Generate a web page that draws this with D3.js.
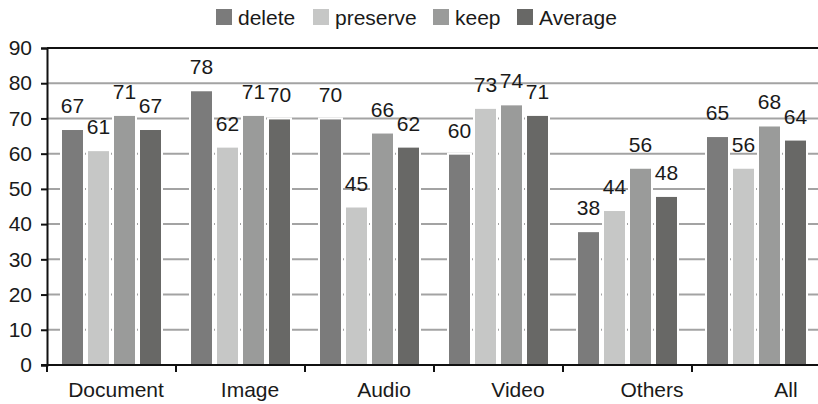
<!DOCTYPE html>
<html>
<head>
<meta charset="utf-8">
<script src="https://cdn.jsdelivr.net/npm/d3@7"></script>
<style>
  html, body { margin: 0; padding: 0; background: #fff; }
  svg { display: block; font-family: "Liberation Sans", Arial, Helvetica, sans-serif; }
</style>
</head>
<body>
<svg id="chart" width="818" height="404"></svg>
<script>
// Categories and series
const categories = ["Document", "Image", "Audio", "Video", "Others", "All"];
const seriesNames = ["delete", "preserve", "keep", "Average"];
const seriesColors = ["#7b7b7b", "#c6c7c6", "#9a9b9a", "#686866"];
const deleteValues   = [67, 78, 70, 60, 38, 65];
const preserveValues = [61, 62, 45, 73, 44, 56];
const keepValues     = [71, 71, 66, 74, 56, 68];
const averageValues  = [67, 70, 62, 71, 48, 64];
const yTicks = [0, 10, 20, 30, 40, 50, 60, 70, 80, 90];

const seriesValues = [deleteValues, preserveValues, keepValues, averageValues];
const FONT = 21;

const svg = d3.select("#chart");
const plot = { left: 47, right: 821, top: 48, bottom: 365 };

const x0 = d3.scaleBand().domain(categories).range([plot.left, plot.right]).padding(0);
const x1 = d3.scaleBand().domain(seriesNames).range([0, 104]).padding(0);
// category captions sit on their own, slightly wider spacing
const xLabel = d3.scalePoint().domain(categories).range([116, 786]);
const y = d3.scaleLinear().domain([0, 90]).range([plot.bottom, plot.top]);

const groupOffset = (x0.bandwidth() - 104) / 2;

// Horizontal grid lines
svg.append("g")
  .selectAll("line")
  .data(yTicks.filter(t => t > 0 && t < 90))
  .join("line")
  .attr("x1", plot.left).attr("x2", 818)
  .attr("y1", d => y(d)).attr("y2", d => y(d))
  .attr("stroke", "#a3a3a3").attr("stroke-width", 2);

// Bars
const groups = svg.append("g")
  .selectAll("g")
  .data(categories)
  .join("g")
  .attr("transform", c => `translate(${x0(c) + groupOffset},0)`);

groups.selectAll("rect")
  .data((c, i) => seriesNames.map((s, j) => ({ s, j, v: seriesValues[j][i] })))
  .join("rect")
  .attr("x", d => x1(d.s) + 1.5)
  .attr("width", x1.bandwidth() - 3)
  .attr("y", d => y(d.v))
  .attr("height", d => y(0) - y(d.v))
  .attr("fill", d => seriesColors[d.j])
  .attr("stroke", "#ffffff")
  .attr("stroke-width", 2);

// Value labels
groups.selectAll("text")
  .data((c, i) => seriesNames.map((s, j) => ({ s, j, v: seriesValues[j][i] })))
  .join("text")
  .attr("x", d => x1(d.s) + x1.bandwidth() / 2)
  .attr("y", d => y(d.v) - 16)
  .attr("text-anchor", "middle")
  .attr("font-size", FONT)
  .attr("fill", "#1a1a1a")
  .text(d => d.v);

// Top frame line
svg.append("line")
  .attr("x1", plot.left).attr("x2", 818)
  .attr("y1", plot.top).attr("y2", plot.top)
  .attr("stroke", "#111").attr("stroke-width", 2);

// Y axis
const yAxis = svg.append("g")
  .attr("transform", `translate(${plot.left},0)`)
  .call(d3.axisLeft(y).tickValues(yTicks).tickSize(6).tickPadding(9));
yAxis.select(".domain").attr("stroke", "#111").attr("stroke-width", 2);
yAxis.selectAll(".tick line").attr("stroke", "#111").attr("stroke-width", 2);
yAxis.selectAll(".tick text")
  .attr("font-size", FONT)
  .attr("font-family", "Liberation Sans, Arial, sans-serif")
  .attr("fill", "#1a1a1a");

// X axis
svg.append("line")
  .attr("x1", plot.left - 6).attr("x2", 818)
  .attr("y1", plot.bottom).attr("y2", plot.bottom)
  .attr("stroke", "#111").attr("stroke-width", 2);

svg.append("g")
  .selectAll("line")
  .data(categories)
  .join("line")
  .attr("x1", c => x0(c)).attr("x2", c => x0(c))
  .attr("y1", plot.bottom).attr("y2", plot.bottom + 7)
  .attr("stroke", "#111").attr("stroke-width", 2);

svg.append("g")
  .selectAll("text")
  .data(categories)
  .join("text")
  .attr("x", c => xLabel(c))
  .attr("y", plot.bottom + 32)
  .attr("text-anchor", "middle")
  .attr("font-size", FONT)
  .attr("fill", "#1a1a1a")
  .text(c => c);

// Legend
const legendX = [216, 313, 433, 517];
const legend = svg.append("g")
  .selectAll("g")
  .data(seriesNames)
  .join("g")
  .attr("transform", (s, i) => `translate(${legendX[i]},9)`);
legend.append("rect")
  .attr("width", 16).attr("height", 16)
  .attr("fill", (s, i) => seriesColors[i]);
legend.append("text")
  .attr("x", 22).attr("y", 16)
  .attr("font-size", FONT)
  .attr("fill", "#1a1a1a")
  .text(s => s);
</script>
</body>
</html>
